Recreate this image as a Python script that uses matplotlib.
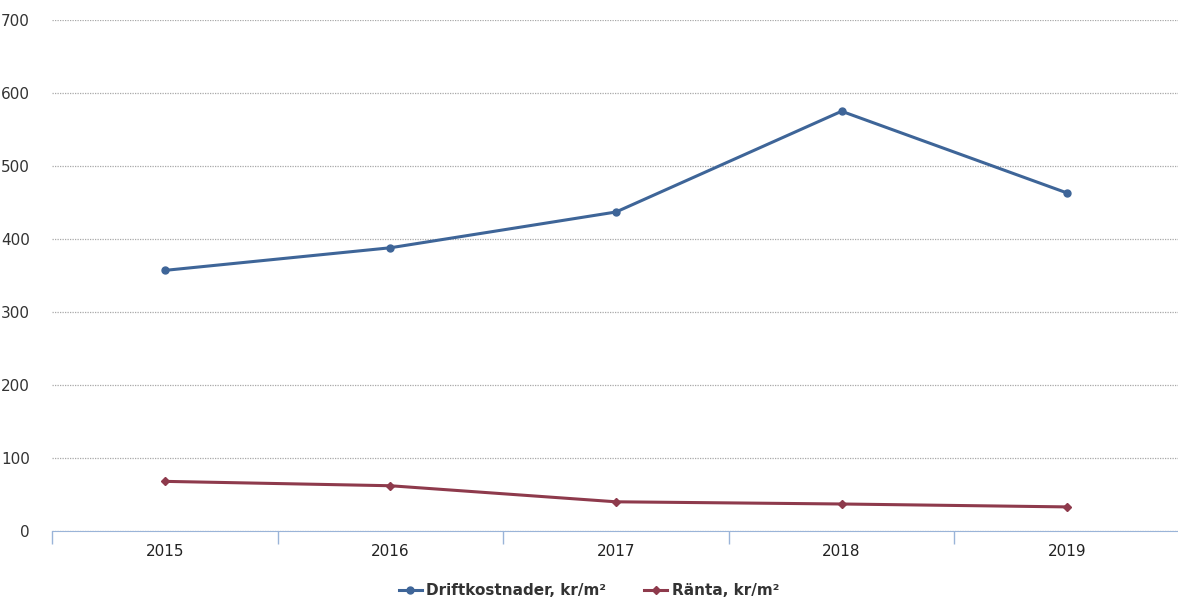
import matplotlib.pyplot as plt
from matplotlib.ticker import MultipleLocator
import numpy as np

# Data
years = ['2015', '2016', '2017', '2018', '2019']
drift = [357, 388, 437, 575, 463]
ranta = [68, 62, 40, 37, 33]

x = np.arange(len(years))

fig = plt.figure(figsize=(11.78, 6.0), dpi=100)
ax = fig.add_axes([52/1178, 69/600, 1128/1178, 511/600])

ax.plot(x, drift, color='#3e6598', linewidth=2.2, marker='o', markersize=5,
        label='Driftkostnader, kr/m²')
ax.plot(x, ranta, color='#8e3a4c', linewidth=2.2, marker='D', markersize=4,
        label='Ränta, kr/m²')

ax.set_xlim(-0.5, len(years) - 0.5)
ax.set_ylim(0, 700)
ax.yaxis.set_major_locator(MultipleLocator(100))
ax.set_xticks(x)
ax.set_xticklabels(years)
ax.set_xticks(np.arange(-0.5, len(years), 1.0), minor=True)

ax.grid(True, axis='y', color='#a8a8a8', linestyle=(0, (1, 1)), linewidth=0.9)
ax.set_axisbelow(True)
for s in ['top', 'right', 'left']:
    ax.spines[s].set_visible(False)
ax.spines['bottom'].set_color('#9ab4d8')
ax.spines['bottom'].set_linestyle((0, (1, 1)))

ax.tick_params(axis='y', length=0, labelsize=11, colors='#333333', pad=16)
ax.tick_params(axis='x', which='major', length=0, labelsize=11, colors='#222222', pad=9)
ax.tick_params(axis='x', which='minor', length=9, color='#9ab4d8', width=1)

fig.legend(loc='lower center', bbox_to_anchor=(0.5, -0.02), ncol=2, frameon=False,
           prop={'weight': 'bold', 'size': 11}, handlelength=1.5, columnspacing=2.5,
           handletextpad=0.3, labelcolor='#333333')

fig.savefig('out.png', dpi=100)
